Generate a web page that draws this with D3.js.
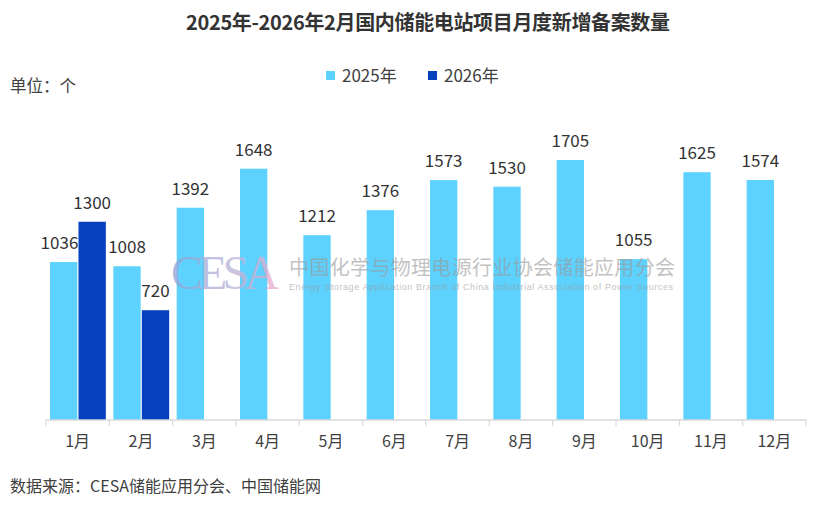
<!DOCTYPE html>
<html>
<head>
<meta charset="utf-8">
<script src="https://cdn.jsdelivr.net/npm/d3@7"></script>
<style>
  body { margin: 0; background: #fff; }
  text { font-family: "Noto Sans CJK SC", "Noto Sans", sans-serif; }
</style>
</head>
<body>
<svg id="chart" width="830" height="511"></svg>
<script>
// ---------------------------//
//       DATA                 //
// ---------------------------//
var months = ["1月", "2月", "3月", "4月", "5月", "6月", "7月", "8月", "9月", "10月", "11月", "12月"];
var seriesNames = ["2025年", "2026年"];
var values2025 = [1036, 1008, 1392, 1648, 1212, 1376, 1573, 1530, 1705, 1055, 1625, 1574];
var values2026 = [1300, 720, null, null, null, null, null, null, null, null, null, null];
var colors = ["#5ED2FE", "#0540BF"];

var svg = d3.select("#chart");

var rows = [];
months.forEach(function(m, i) {
    rows.push({ month: m, series: seriesNames[0], value: values2025[i], other: values2026[i] });
    if (values2026[i] != null)
        rows.push({ month: m, series: seriesNames[1], value: values2026[i], other: values2025[i] });
});

// ---------------------------//
//       AXIS  AND SCALE      //
// ---------------------------//
var x0 = d3.scaleBand()
    .domain(months)
    .range([46, 806])
    .padding(0);

var x1 = d3.scaleBand()
    .domain(seriesNames)
    .range([4, x0.bandwidth() - 3.5])
    .paddingInner(0.04);

var y = d3.scaleLinear()
    .domain([0, 2000])
    .range([420, 115]);

var color = d3.scaleOrdinal().domain(seriesNames).range(colors);

// title
svg.append("text")
    .attr("x", 428)
    .attr("y", 30)
    .attr("text-anchor", "middle")
    .style("font-size", "20px")
    .style("font-weight", "bold")
    .style("fill", "#333")
    .attr("textLength", 484)
    .text("2025年-2026年2月国内储能电站项目月度新增备案数量");

// unit
svg.append("text")
    .attr("x", 10)
    .attr("y", 92)
    .style("font-size", "16.5px")
    .style("fill", "#404040")
    .text("单位：个");

// legend
var legend = svg.append("g").selectAll("g")
    .data(seriesNames)
    .enter()
    .append("g")
    .attr("transform", function(d, i) { return "translate(" + (326 + i * 102) + ",71)"; });

legend.append("rect")
    .attr("width", 9)
    .attr("height", 9)
    .style("fill", function(d) { return color(d); });

legend.append("text")
    .attr("x", 16)
    .attr("y", 11)
    .style("font-size", "17px")
    .style("fill", "#404040")
    .text(function(d) { return d; });

// ---------------------------//
//       BARS                 //
// ---------------------------//
var bars = svg.append("g");

bars.selectAll("rect")
    .data(rows)
    .enter()
    .append("rect")
    .attr("x", function(d) { return x0(d.month) + x1(d.series); })
    .attr("y", function(d) { return y(d.value); })
    .attr("width", x1.bandwidth())
    .attr("height", function(d) { return y(0) - y(d.value); })
    .style("fill", function(d) { return color(d.series); });

// ---------------------------//
//       WATERMARK            //
// ---------------------------//
var defs = svg.append("defs");
var grad = defs.append("linearGradient")
    .attr("id", "cesaGrad")
    .attr("x1", "0%").attr("x2", "100%");
grad.append("stop").attr("offset", "0%").attr("stop-color", "#8aa3d6");
grad.append("stop").attr("offset", "55%").attr("stop-color", "#b9b2d8");
grad.append("stop").attr("offset", "100%").attr("stop-color", "#f0a9c8");

var wm = svg.append("g").attr("class", "watermark");

wm.append("text")
    .attr("x", 171)
    .attr("y", 289)
    .style("font-family", "'Liberation Serif', 'DejaVu Serif', serif")
    .style("font-size", "48px")
    .style("fill", "url(#cesaGrad)")
    .style("opacity", 0.75)
    .attr("textLength", 108)
    .text("CESA");

wm.append("text")
    .attr("x", 289)
    .attr("y", 275)
    .style("font-size", "20px")
    .style("fill", "#9a9a9a")
    .style("opacity", 0.6)
    .attr("textLength", 386)
    .text("中国化学与物理电源行业协会储能应用分会");

wm.append("text")
    .attr("x", 289)
    .attr("y", 290)
    .style("font-family", "'Liberation Sans', Arial, sans-serif")
    .style("font-size", "9px")
    .style("fill", "#9a9a9a")
    .style("opacity", 0.6)
    .attr("textLength", 384)
    .text("Energy Storage Application Branch of China Industrial Association of Power Sources");

// value labels
svg.append("g")
    .selectAll("text")
    .data(rows)
    .enter()
    .append("text")
    .attr("x", function(d) {
        var left = x0(d.month) + x1(d.series);
        // shift the label left when the neighbour bar is taller
        if (d.series === seriesNames[0] && d.other != null && d.other > d.value)
            return left + x1.bandwidth() + 1;
        return left + x1.bandwidth() / 2;
    })
    .attr("y", function(d) { return y(d.value) - 13; })
    .attr("text-anchor", function(d) {
        return (d.series === seriesNames[0] && d.other != null && d.other > d.value) ? "end" : "middle";
    })
    .style("font-size", "17px")
    .style("fill", "#333")
    .text(function(d) { return d.value; });

// x axis
var xAxis = svg.append("g")
    .attr("transform", "translate(0," + y(0) + ")");

xAxis.append("line")
    .attr("x1", x0.range()[0])
    .attr("x2", x0.range()[1])
    .style("stroke", "#d9d9d9")
    .style("stroke-width", 1.5);

xAxis.selectAll("line.tick")
    .data(months.concat(["end"]))
    .enter()
    .append("line")
    .attr("class", "tick")
    .attr("x1", function(d) { return d === "end" ? x0.range()[1] : x0(d); })
    .attr("x2", function(d) { return d === "end" ? x0.range()[1] : x0(d); })
    .attr("y1", 0)
    .attr("y2", 6)
    .style("stroke", "#d9d9d9")
    .style("stroke-width", 1.2);

xAxis.selectAll("text")
    .data(months)
    .enter()
    .append("text")
    .attr("x", function(d) { return x0(d) + x0.bandwidth() / 2; })
    .attr("y", 27)
    .attr("text-anchor", "middle")
    .style("font-size", "16px")
    .style("fill", "#404040")
    .text(function(d) { return d; });

// source
svg.append("text")
    .attr("x", 10)
    .attr("y", 492)
    .style("font-size", "16px")
    .style("fill", "#404040")
    .text("数据来源：CESA储能应用分会、中国储能网");
</script>
</body>
</html>
